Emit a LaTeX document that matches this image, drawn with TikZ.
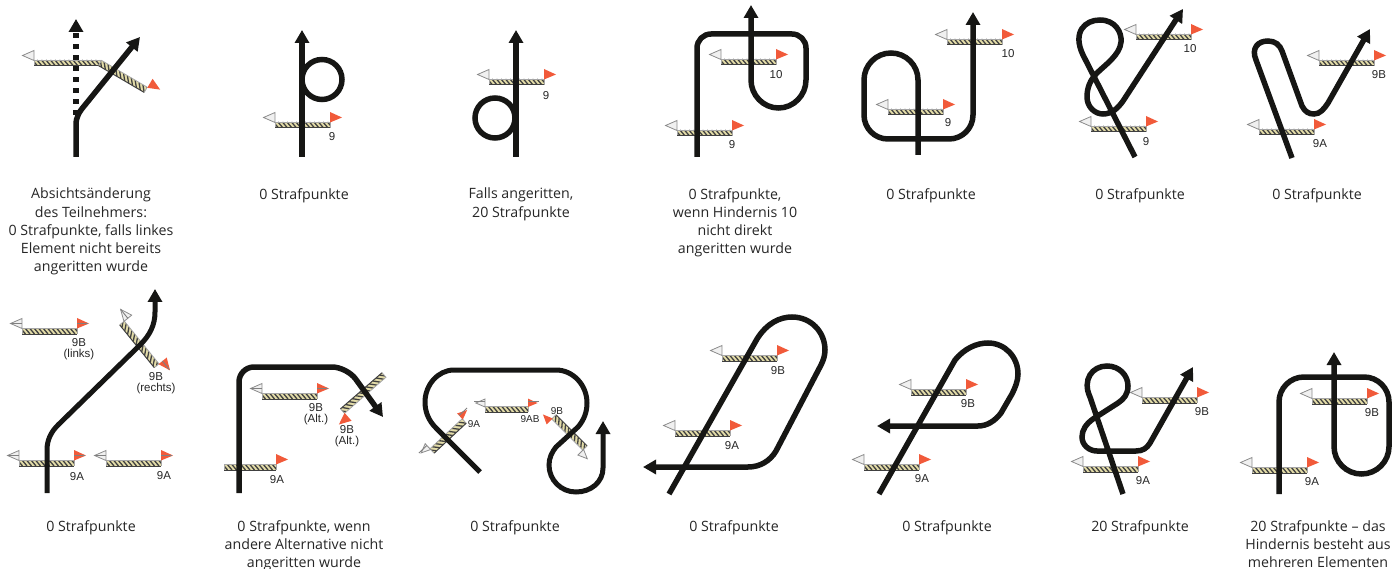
\documentclass[tikz,border=0pt]{standalone}
\usepackage{fontspec}
\setmainfont{Open Sans}
\newfontfamily\numfont{Liberation Sans}
\usetikzlibrary{arrows.meta}
\definecolor{railc}{HTML}{E3DCA8}
\definecolor{flagr}{HTML}{F15A3A}
\definecolor{trackc}{HTML}{161614}

% bare striped pole: start x, y, angle, length
\newcommand{\rail}[4]{
    \begin{scope}[shift={(#1,#2)},rotate=#3]
        \fill[railc] (0,-3) rectangle (#4,3);
        \begin{scope}
            \clip (0,-3) rectangle (#4,3);
            \foreach \s in {-6,-1.5,...,#4}
                \draw[line width=1.3pt,black!75] (\s,-3) -- (\s+5,3);
        \end{scope}
        \draw[line width=.8pt,black!35] (0,3) -- (0,-3) -- (#4,-3) -- (#4,3);
        \draw[line width=1pt,black!75] (0,3) -- (#4,3);
    \end{scope}
}
\newcommand{\whiteflag}[4][1]{
    \begin{scope}[shift={(#2,#3)},rotate=#4,scale=#1]
        \filldraw[draw=black!45,fill=black!6,line width=.8pt] (0,-2.5) -- (0,-12.5) -- (-11.5,-7.5) -- cycle;
    \end{scope}
}
\newcommand{\redflag}[4][1]{
    \begin{scope}[shift={(#2,#3)},rotate=#4,scale=#1]
        \fill[flagr] (0,-2.5) -- (0,-13) -- (12,-7.5) -- cycle;
    \end{scope}
}
% whole gate: optional flag size, start x, y, angle, length
\newcommand{\gate}[5][1]{
    \rail{#2}{#3}{#4}{#5}
    \begin{scope}[shift={(#2,#3)},rotate=#4]
        \whiteflag[#1]{0}{0}{0}
        \redflag[#1]{#5}{0}{0}
    \end{scope}
}
% same, with the thin grey flag sticks
\newcommand{\stickgate}[5][1]{
    \gate[#1]{#2}{#3}{#4}{#5}
    \begin{scope}[shift={(#2,#3)},rotate=#4]
        \draw[line width=.9pt,black!50] (-11,-7.5) -- (0,-7.5);
        \draw[line width=.9pt,black!50] (#5,-7.5) -- (#5+11,-7.5);
    \end{scope}
}

\begin{document}
\begin{tikzpicture}[x=1pt,y=-1pt]
    \tikzstyle{track} = [line width=5.5pt,draw=trackc]
    \tikzstyle{arrow} = [track,->,>={Triangle[length=13pt,width=14pt]}]
    \tikzstyle{caption} = [anchor=north,align=center,inner sep=0pt,font=\fontsize{14.2}{18.2}\selectfont,text=black!85]
    \tikzstyle{num} = [inner sep=0pt,align=center,font=\numfont\fontsize{11.5}{11.5}\selectfont,text=black!85]
    \tikzstyle{numsmall} = [num,font=\numfont\fontsize{10}{10}\selectfont]

    \useasboundingbox (0,0) rectangle (1400,569);

    % upper row
    \rail{34}{63}{0}{66}
    \rail{100}{63}{-30.4}{53}
    \whiteflag{34}{63}{0}
    \redflag{146}{90}{-30.4}
    \draw[arrow,line width=6pt,dash pattern=on 5pt off 6pt] (76,115) -- (76,19);
    \draw[arrow] (76,157) -- (76,125) .. controls (76,117) and (79,112) .. (85,105) -- (140,37);
    \node (c1) [caption] at (91,188) {Absichtsänderung\\des Teilnehmers:\\0 Strafpunkte, falls linkes\\Element nicht bereits\\angeritten wurde};

    \gate{275}{125}{0}{55}
    \draw[track] (322,79.5) circle (20);
    \draw[arrow] (302,157) -- (302,30);
    \node (n2) [num] at (332,137) {9};
    \node (c2) [caption] at (304,188) {0 Strafpunkte};

    \gate{489}{82}{0}{55}
    \draw[track] (495,118) circle (20);
    \draw[arrow] (516,157) -- (516,30);
    \node (n3) [num] at (546,96) {9};
    \node (c3) [caption] at (521,188) {Falls angeritten,\\20 Strafpunkte};

    \gate{677}{133}{0}{55}
    \gate{721}{62}{0}{55}
    \draw[arrow] (697,157) -- (697,48) .. controls (697,40.3) and (703.3,34) .. (711,34) -- (792,34) .. controls (799.7,34) and (806,40.3) .. (806,48) -- (806,80) .. controls (806,95.2) and (793.7,108) .. (778.5,108) .. controls (763.3,108) and (751,95.2) .. (751,80) -- (751,5);
    \node (n4a) [num] at (732,145) {9};
    \node (n4b) [num] at (776,75) {10};
    \node (c4) [caption] at (735,188) {0 Strafpunkte,\\wenn Hindernis 10\\nicht direkt\\angeritten wurde};

    \gate{888}{112}{0}{55}
    \gate{947}{42}{0}{55}
    \draw[arrow] (918,155) -- (918,80) .. controls (918,65.1) and (905.9,53) .. (891,53) .. controls (876.1,53) and (864,65.1) .. (864,80) -- (864,115) .. controls (864,128.3) and (874.7,139) .. (888,139) -- (949,139) .. controls (962.3,139) and (973,128.3) .. (973,115) -- (973,12);
    \node (n5a) [num] at (948,123) {9};
    \node (n5b) [num] at (1008,54) {10};
    \node (c5) [caption] at (931,188) {0 Strafpunkte};

    \gate{1091}{129}{0}{55}
    \gate{1136}{37}{0}{55}
    \draw[arrow] (1135,157) -- (1083,55) .. controls (1072,32) and (1085,20) .. (1100,20) .. controls (1115,20) and (1122,32) .. (1121,42) .. controls (1120,55) and (1105,65) .. (1097,73) .. controls (1090,80) and (1087,88) .. (1087,97) .. controls (1087,107) and (1095,114) .. (1103,114) .. controls (1112,114) and (1118,108) .. (1123,101) -- (1183,9);
    \node (n6a) [num] at (1146,142) {9};
    \node (n6b) [num] at (1190,49) {10};
    \node (c6) [caption] at (1140,188) {0 Strafpunkte};

    \gate{1259}{132}{0}{55}
    \gate{1319}{63}{0}{55}
    \draw[arrow] (1292,158) -- (1256,60) .. controls (1251,48) and (1258,41) .. (1268,41) .. controls (1275,41) and (1280,45) .. (1282,51) -- (1302,106) .. controls (1305,112) and (1309,114) .. (1314,114) .. controls (1320,114) and (1324,109) .. (1328,103) -- (1370,29);
    \node (n7a) [num] at (1320,144) {9A};
    \node (n7b) [num] at (1379,75) {9B};
    \node (c7) [caption] at (1317,188) {0 Strafpunkte};

    % lower row
    \stickgate{22}{331}{0}{55}
    \stickgate{122}{323}{-51}{55}
    \stickgate{19}{463}{0}{55}
    \stickgate{106}{463}{0}{55}
    \draw[arrow,line width=5pt] (47,493) -- (47,450) .. controls (47,440) and (51,432) .. (58,425) -- (140,345) .. controls (150,335) and (155,325) .. (155,312) -- (155,289);
    \node (n8a) [num] at (79,349) {9B\\(links)};
    \node (n8b) [num] at (156,383) {9B\\(rechts)};
    \node (n8c) [num] at (77,477) {9A};
    \node (n8d) [num] at (164,476) {9A};
    \node (c8) [caption] at (91,520) {0 Strafpunkte};

    \rail{224}{467}{0}{52}
    \redflag{276}{467}{0}
    \stickgate{262}{396}{0}{55}
    \rail{384}{375}{221}{55}
    \redflag{343}{411}{221}
    \draw[arrow,rounded corners=15pt] (239,493) -- (239,367) -- (347,367) -- (383,417);
    \node (n9a) [num] at (277,480) {9A};
    \node (n9b) [num] at (316,414) {9B\\(Alt.)};
    \node (n9c) [num] at (347,436) {9B\\(Alt.)};
    \node (c9) [caption] at (304,520) {0 Strafpunkte, wenn\\andere Alternative nicht\\angeritten wurde};

    \stickgate[.8]{432}{451}{43}{44}
    \stickgate[.8]{485}{409}{0}{43}
    \rail{585}{448}{135}{44}
    \whiteflag[.8]{585}{448}{135}
    \redflag[.8]{554}{417}{135}
    \draw[arrow,line width=5pt] (480,472) -- (436,428) .. controls (428,420) and (425,411) .. (425,402) .. controls (425,385) and (438,370) .. (454,370) -- (556,370) .. controls (573,370) and (587,385) .. (587,403) .. controls (587,412) and (584,420) .. (578,427) -- (556,447) .. controls (552,452) and (549,458) .. (549,465) .. controls (549,480) and (561,492) .. (576,492) .. controls (591,492) and (603,482) .. (603,468) -- (603,421);
    \node (n10a) [numsmall] at (474,424) {9A};
    \node (n10b) [numsmall] at (530,419) {9AB};
    \node (n10c) [numsmall] at (557,411) {9B};
    \node (c10) [caption] at (515,520) {0 Strafpunkte};

    \gate{675}{433}{0}{55}
    \gate{722}{358}{0}{55}
    \draw[arrow] (669,494) -- (757,339) .. controls (767,323) and (780,317) .. (792,317) .. controls (811,317) and (825,332) .. (825,350) .. controls (825,356) and (823,361) .. (821,365) -- (776,451) .. controls (770,461) and (760,467) .. (748,467) -- (643,467);
    \node (n11a) [num] at (732,446) {9A};
    \node (n11b) [num] at (778,371) {9B};
    \node (c11) [caption] at (734,520) {0 Strafpunkte};

    \gate{864}{467}{0}{55}
    \gate{911}{392}{0}{55}
    \draw[arrow] (879,494) -- (955,360) .. controls (964,349) and (976,343) .. (988,343) .. controls (1005,343) and (1018,357) .. (1018,374) .. controls (1018,381) and (1015,388) .. (1012,394) -- (1001,413) .. controls (995,421) and (987,426) .. (978,426) -- (877,426);
    \node (n12a) [num] at (922,479) {9A};
    \node (n12b) [num] at (968,404) {9B};
    \node (c12) [caption] at (947,520) {0 Strafpunkte};

    \gate{1083}{469}{0}{55}
    \gate{1142}{400}{0}{55}
    \draw[arrow] (1123,494) -- (1090,397) .. controls (1082,380) and (1092,366) .. (1107,366) .. controls (1119,366) and (1128,375) .. (1128,386) .. controls (1128,394) and (1124,399) .. (1118,403) -- (1093,419) .. controls (1086,424) and (1082,430) .. (1082,437) .. controls (1082,445) and (1089,451) .. (1097,451) -- (1136,451) .. controls (1143,451) and (1147,448) .. (1150,443) -- (1193,367);
    \node (n13a) [num] at (1143,481) {9A};
    \node (n13b) [num] at (1202,412) {9B};
    \node (c13) [caption] at (1140,520) {20 Strafpunkte};

    \gate{1252}{470}{0}{55}
    \gate{1312}{401}{0}{55}
    \draw[arrow] (1279,494) -- (1279,402) .. controls (1279,388.2) and (1290.2,377) .. (1304,377) -- (1364,377) .. controls (1377.8,377) and (1389,388.2) .. (1389,402) -- (1389,446.5) .. controls (1389,461.7) and (1376.7,474) .. (1361.5,474) .. controls (1346.3,474) and (1334,461.7) .. (1334,446.5) -- (1334,352);
    \node (n14a) [num] at (1312,482) {9A};
    \node (n14b) [num] at (1372,413) {9B};
    \node (c14) [caption] at (1318,520) {20 Strafpunkte – das\\Hindernis besteht aus\\mehreren Elementen};
\end{tikzpicture}
\end{document}
